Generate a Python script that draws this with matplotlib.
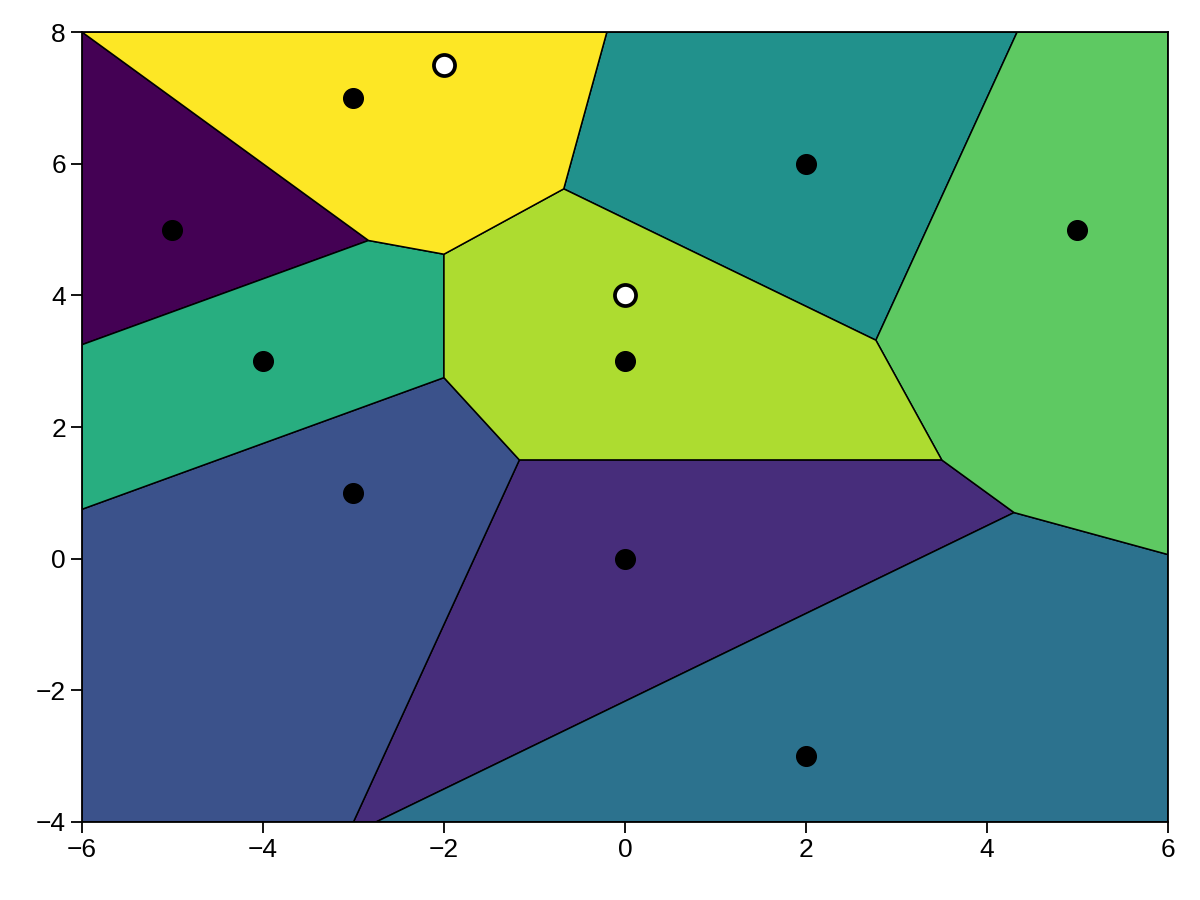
import numpy as np
import matplotlib.pyplot as plt

# generator points (order sets the colour index)
px = [-5, 0, -3, 2, 2, -4, 5, 0, -3]
py = [5, 0, 1, -3, 6, 3, 5, 3, 7]
# extra highlighted points
wx = [-2, 0]
wy = [7.5, 4]

xlim = (-6, 6)
ylim = (-4, 8)


def clip(poly, a, b, c):
    # keep part of polygon where a*x + b*y <= c
    out = []
    n = len(poly)
    for i in range(n):
        p = poly[i]
        q = poly[(i + 1) % n]
        fp = a * p[0] + b * p[1] - c
        fq = a * q[0] + b * q[1] - c
        if fp <= 0:
            out.append(p)
        if fp * fq < 0:
            t = fp / (fp - fq)
            out.append((p[0] + t * (q[0] - p[0]), p[1] + t * (q[1] - p[1])))
    return out


def cell(i):
    poly = [(xlim[0], ylim[0]), (xlim[1], ylim[0]), (xlim[1], ylim[1]), (xlim[0], ylim[1])]
    xi, yi = px[i], py[i]
    for j in range(len(px)):
        if j == i:
            continue
        xj, yj = px[j], py[j]
        a = xj - xi
        b = yj - yi
        c = (xj**2 + yj**2 - xi**2 - yi**2) / 2
        poly = clip(poly, a, b, c)
    return np.array(poly)


plt.rcParams['font.family'] = ['Liberation Sans', 'DejaVu Sans']
fig = plt.figure(figsize=(12, 9), dpi=100)
ax = fig.add_axes([0.0683, 0.0867, 0.905, 0.8777])

cmap = plt.get_cmap('viridis')
n = len(px)
for i in range(n):
    poly = cell(i)
    ax.fill(poly[:, 0], poly[:, 1], facecolor=cmap(i / (n - 1)),
            edgecolor='black', linewidth=1.1, zorder=1)

ax.scatter(px, py, s=200, color='black', zorder=3)
ax.scatter(wx, wy, s=230, color='white', edgecolors='black', linewidths=2.7, zorder=3)

ax.set_xlim(xlim)
ax.set_ylim(ylim)
ax.set_xticks([-6, -4, -2, 0, 2, 4, 6])
ax.set_yticks([-4, -2, 0, 2, 4, 6, 8])
ax.tick_params(direction='out', length=8, width=1.3, labelsize=19)
for s in ax.spines.values():
    s.set_linewidth(1.3)
    s.set_zorder(5)

fig.savefig('out.png', dpi=100)
